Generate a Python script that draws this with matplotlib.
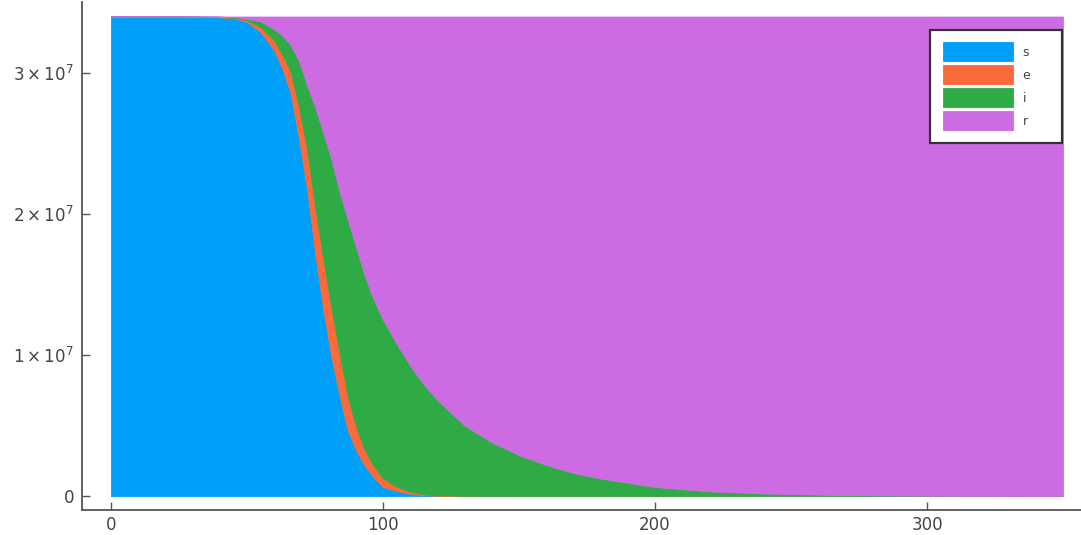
import matplotlib
matplotlib.use("Agg")
from matplotlib import pyplot as plt
import numpy as np

# dias da simulacao
dias = [0, 10, 20, 30, 40, 45, 50, 55, 60, 63, 66, 69, 72, 75, 78, 81, 84, 87, 90, 93,
        96, 100, 105, 110, 115, 120, 130, 140, 150, 160, 170, 180, 200, 220, 240, 260,
        280, 300, 325, 350]

# valores em milhoes de pessoas
s = [33.999, 33.997, 33.992, 33.985, 33.95, 33.86, 33.62, 32.90, 31.60, 30.30,
     28.60, 25.50, 21.90, 17.30, 13.30, 9.90, 7.16, 4.70, 3.30, 2.23,
     1.46, 0.64, 0.35, 0.16, 0.05, 0.02, 0.005, 0.002, 0.001, 0.0005,
     0.0003, 0.0002, 0.0001, 0.0001, 0.0001, 0.0001, 0.0001, 0.0001, 0.0001, 0.0001]
e = [0.0005, 0.001, 0.003, 0.007, 0.02, 0.04, 0.12, 0.35, 0.70, 1.00,
     1.50, 2.20, 2.80, 3.30, 3.60, 3.50, 3.00, 2.40, 1.70, 1.15,
     0.85, 0.60, 0.32, 0.15, 0.07, 0.03, 0.01, 0.003, 0.001, 0.0005,
     0.0002, 0.0001, 0, 0, 0, 0, 0, 0, 0, 0]
i = [0.0005, 0.001, 0.003, 0.006, 0.02, 0.05, 0.10, 0.42, 0.80, 1.35,
     1.90, 3.20, 4.50, 7.00, 8.90, 10.50, 11.45, 12.55, 12.73, 12.42,
     11.89, 11.26, 10.13, 8.94, 7.78, 6.75, 4.985, 3.795, 2.90, 2.20,
     1.63, 1.24, 0.64, 0.33, 0.18, 0.10, 0.05, 0.02, 0.01, 0.005]
r = [0.0, 0.001, 0.002, 0.002, 0.01, 0.05, 0.16, 0.33, 0.90, 1.35,
     2.00, 3.10, 4.80, 6.40, 8.20, 10.10, 12.39, 14.35, 16.27, 18.20,
     19.80, 21.50, 23.20, 24.75, 26.10, 27.20, 29.00, 30.20, 31.098, 31.799,
     32.3695, 32.7597, 33.3599, 33.6699, 33.8199, 33.8999, 33.9499, 33.9799, 33.9899, 33.9949]

rotulos = ["s", "e", "i", "r"]
cores = ["#009FFA", "#FA6A3A", "#2EAB45", "#CD6CE2"]

yticks = [0, 1e7, 2e7, 3e7]
ytick_labels = ["0", r"$1\times10^{7}$", r"$2\times10^{7}$", r"$3\times10^{7}$"]
xticks = [0, 100, 200, 300]

fig = plt.figure(figsize=(10.81, 5.35), dpi=100)
ax = fig.add_axes([0.0762, 0.046, 0.9336, 0.950])

series = [np.array(v) * 1e6 for v in (s, e, i, r)]
ax.stackplot(dias, *series, colors=cores, labels=rotulos,
             edgecolor="face", linewidth=0.6)

ax.set_xlim(-10.5, 360.5)
ax.set_ylim(-1.02e6, 3.502e7)

for lado in ("top", "right"):
    ax.spines[lado].set_visible(False)
for lado in ("left", "bottom"):
    ax.spines[lado].set_color("#555555")
    ax.spines[lado].set_linewidth(1.3)

ax.set_xticks(xticks)
ax.set_xticklabels([str(t) for t in xticks])
ax.set_yticks(yticks)
ax.set_yticklabels(ytick_labels)
ax.tick_params(direction="in", length=6, width=1, colors="#555555",
               labelcolor="#444444", labelsize=12)
ax.tick_params(axis="y", pad=6)
ax.tick_params(axis="x", pad=4)

leg = ax.legend(loc="upper left", bbox_to_anchor=(0.840, 0.7249, 0.1308, 0.2204),
                mode="expand", borderaxespad=0, fontsize=9, handlelength=5.6,
                handleheight=1.96, labelspacing=0.32, handletextpad=0.8,
                borderpad=1.0, fancybox=False, edgecolor="#333333", framealpha=1)
leg.get_frame().set_linewidth(1.6)
for t in leg.get_texts():
    t.set_color("#444444")

fig.savefig("out.png", dpi=100)
